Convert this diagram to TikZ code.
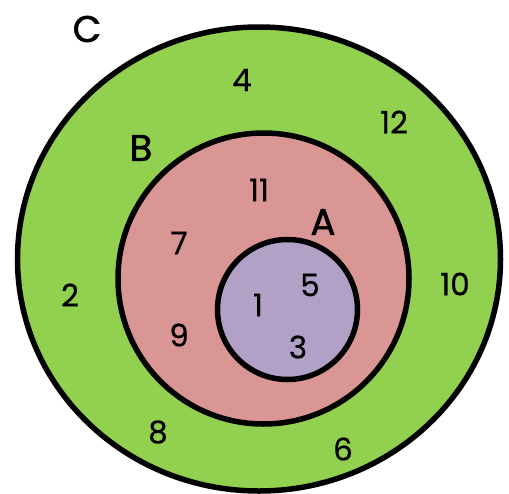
\documentclass[tikz,border=0pt]{standalone}
\usepackage{fontspec}
\setmainfont{Poppins}
\newfontfamily\letterfont[FakeBold=1.6]{Poppins}
\newfontfamily\numfont[FakeBold=0.6]{Poppins}
\definecolor{cgreen}{HTML}{92D050}
\definecolor{bpink}{HTML}{DA9694}
\definecolor{apurple}{HTML}{B2A1C7}
\begin{document}
\begin{tikzpicture}[x=1pt,y=-1pt,
  ring/.style={draw=black,line width=5.5pt},
  num/.style={font=\numfont\fontsize{31}{31}\selectfont,inner sep=0pt,anchor=center},
  setlabel/.style={font=\letterfont\fontsize{37}{37}\selectfont,inner sep=0pt,anchor=center}]
\useasboundingbox (0,0) rectangle (509,493);
\clip (0,0) rectangle (509,493);
\draw[ring,fill=cgreen] (259,259) ellipse [x radius=241.5,y radius=232];
\draw[ring,fill=bpink] (263.5,278.5) circle [radius=145.5];
\draw[ring,fill=apurple] (287.5,309.5) circle [radius=70];
\node[setlabel] (lC) at (87,29) {C};
\node[setlabel] (lB) at (141,148) {B};
\node[setlabel] (lA) at (323,222) {A};
\node[num] (n4) at (242,80) {4};
\node[num] (n12) at (394,122) {12};
\node[num] (n2) at (70,295) {2};
\node[num] (n10) at (455,284) {10};
\node[num] (n8) at (158,432) {8};
\node[num] (n6) at (343,449) {6};
\node[num] (n11) at (259,190) {11};
\node[num] (n7) at (179,243) {7};
\node[num] (n9) at (179,335) {9};
\node[num] (n1) at (258,305) {1};
\node[num] (n5) at (310,285) {5};
\node[num] (n3) at (298,347) {3};
\end{tikzpicture}
\end{document}
